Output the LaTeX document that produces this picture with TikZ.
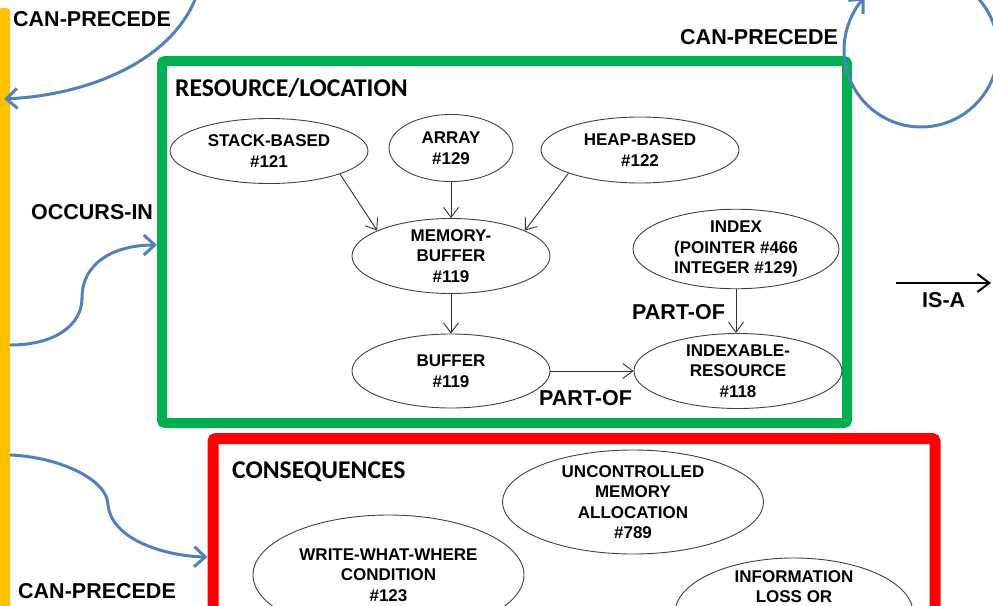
\documentclass[tikz,border=0pt]{standalone}
\usepackage{fontspec}
\setmainfont{Liberation Sans}
\newfontfamily\titlefont{Carlito}
\usetikzlibrary{arrows.meta,shapes.geometric}
\definecolor{barY}{HTML}{FFC000}
\definecolor{boxG}{HTML}{00B050}
\definecolor{boxR}{HTML}{FF0000}
\definecolor{flowB}{HTML}{4F81BD}
\begin{document}
\begin{tikzpicture}[x=1pt,y=-1pt,
  oval/.style={ellipse, draw=black!75, line width=0.9, inner sep=0pt, align=center,
    font=\bfseries\fontsize{17}{20.5}\selectfont},
  ovaltext/.style={inner sep=0pt, align=center, font=\bfseries\fontsize{17}{20}\selectfont},
  lbl/.style={inner sep=0pt, anchor=base west, font=\bfseries\fontsize{21.5}{24}\selectfont},
  title/.style={inner sep=0pt, anchor=base west, font=\titlefont\bfseries\fontsize{25.6}{30}\selectfont},
  frame/.style={rectangle, rounded corners=3pt, inner sep=0pt},
  link/.style={draw=black!80, line width=0.9, -{Straight Barb[length=10pt, width=15pt]}},
  flow/.style={draw=flowB, line width=3, -{Straight Barb[length=11pt, width=20pt]}},
  legend/.style={draw=black, line width=2, -{Straight Barb[length=12pt, width=18pt]}}]

\path[use as bounding box, clip] (0,0) rectangle (993,605);

% timeline bar on the left
\node[fill=barY, rounded corners=3pt, minimum width=12, minimum height=700, inner sep=0pt, anchor=north] (bar) at (4,8) {};

% group frames
\node[frame, draw=boxG, line width=10, minimum width=685, minimum height=362] (resbox) at (504.5,242) {};
\node[frame, draw=boxR, line width=11, minimum width=722, minimum height=262] (conbox) at (574,569.5) {};

\node[title] (restitle) at (175,96) {RESOURCE/LOCATION};
\node[title] (contitle) at (232,478) {CONSEQUENCES};

% resource/location concepts
\node[oval, minimum width=198, minimum height=65] (stack) at (269,151) {STACK-BASED\\\#121};
\node[oval, minimum width=124, minimum height=67] (array) at (451,148) {ARRAY\\\#129};
\node[oval, minimum width=198, minimum height=66] (heap) at (640,150) {HEAP-BASED\\\#122};
\node[oval, minimum width=198, minimum height=66] (memory) at (451,256) {MEMORY-\\BUFFER\\\#119};
\node[oval, minimum width=206, minimum height=79] (index) at (736,249) {INDEX\\(POINTER \#466\\INTEGER \#129)};
\node[oval, minimum width=198, minimum height=74] (buffer) at (451,371) {BUFFER\\\#119};
\node[oval, minimum width=208, minimum height=75] (indexable) at (738,371) {INDEXABLE-\\RESOURCE\\\#118};

\draw[link] (stack.-18) -- (memory.161);
\draw[link] (array.south) -- (memory.north);
\draw[link] (heap.198) -- (memory.19);
\draw[link] (memory.south) -- (buffer.north);
\draw[link] (index.south) -- (index.south |- indexable.north);
\draw[link] (buffer.east) -- (indexable.west);

\node[lbl] (partof1) at (632,319) {PART-OF};
\node[lbl] (partof2) at (539,405) {PART-OF};

% consequences
\node[oval, minimum width=261, minimum height=103] (uncontrolled) at (633,502) {UNCONTROLLED\\MEMORY\\ALLOCATION\\\#789};
\node[oval, minimum width=271, minimum height=120] (www) at (388.5,575) {WRITE-WHAT-WHERE\\CONDITION\\\#123};
\node[oval, minimum width=238, minimum height=110] (info) at (794,613) {};
\node[ovaltext, anchor=north] (infotext) at (794,570) {INFORMATION\\LOSS OR};

% relation labels
\node[lbl] (prec1) at (13,27) {CAN-PRECEDE};
\node[lbl] (prec2) at (680,44) {CAN-PRECEDE};
\node[lbl] (occurs) at (31,219) {OCCURS-IN};
\node[lbl] (prec3) at (18,598) {CAN-PRECEDE};

% legend arrow
\coordinate (isaA) at (896,283);
\coordinate (isaB) at (991,283);
\draw[legend] (isaA) -- (isaB);
\node[lbl] (isa) at (922,307) {IS-A};

% relation curves
\coordinate (topsrc) at (198,-8);
\draw[flow] (topsrc) .. controls (175,60) and (90,95) .. (bar.center |- 0,99);
\coordinate (loopsrc) at (970.5,-9);
\draw[flow] (loopsrc) arc[start angle=-50, end angle=223, radius=77];
\draw[flow] (bar.east |- 0,345) .. controls (55,345) and (82,325) .. (82,298)
  .. controls (82,262) and (115,245) .. (resbox.west |- 0,245);
\draw[flow] (bar.east |- 0,455) .. controls (60,457) and (108,480) .. (108,505)
  .. controls (112,540) and (165,556) .. (conbox.west |- 0,557);
\end{tikzpicture}
\end{document}
